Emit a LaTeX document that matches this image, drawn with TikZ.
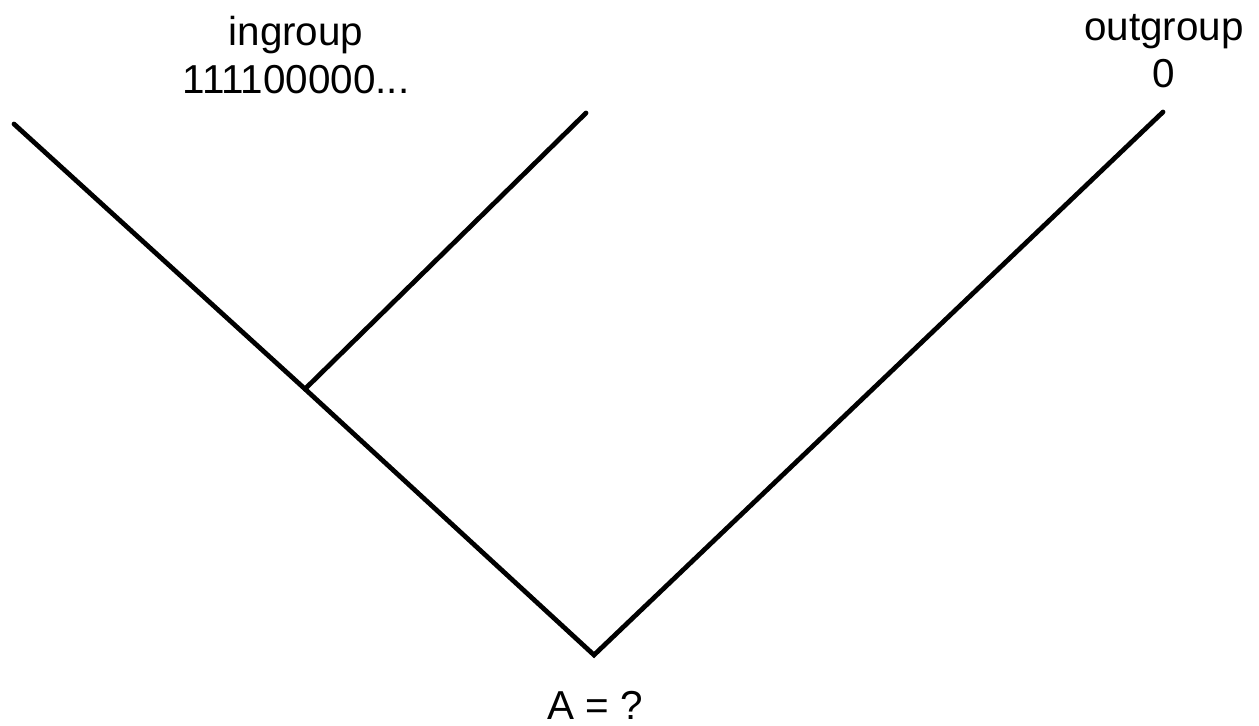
\documentclass[tikz,border=0pt]{standalone}
\usepackage{fontspec}
\setmainfont{Liberation Sans}
\usetikzlibrary{positioning}

\begin{document}
\begin{tikzpicture}[
    x=0.02cm, y=-0.02cm,
    font=\fontsize{23}{27}\selectfont,
    branch/.style={line width=2.7pt, line cap=round, line join=miter},
    taxon/.style={align=center, inner sep=0pt},
]
\useasboundingbox (0,0) rectangle (1259,726);

% tree vertices
\coordinate (root) at (594,655);
\coordinate (inner) at (305,389);
\coordinate (leafA) at (14,124);
\coordinate (leafB) at (586,113);
\coordinate (leafC) at (1163,112);

% branches
\draw[branch] (leafA) -- (inner) -- (root) -- (leafC);
\draw[branch] (inner) -- (leafB);

% labels
\node[taxon] (ingroup) at (296,55) {ingroup\\111100000...};
\node[taxon] (outgroup) at (1164,51) {outgroup\\0};
\node[taxon] (ancestor) at (595,705) {A = ?};

\end{tikzpicture}
\end{document}
